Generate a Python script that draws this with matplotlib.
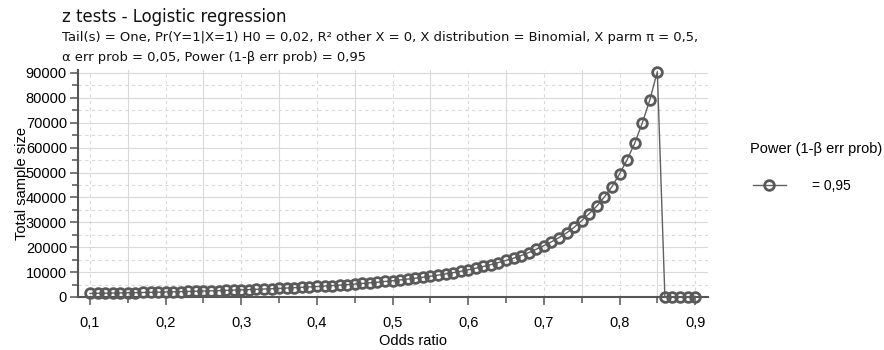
import matplotlib
matplotlib.use("Agg")
import matplotlib.pyplot as plt
from matplotlib.ticker import FixedLocator, FuncFormatter

# data read from the G*Power plot
odds_ratio = [
    0.10, 0.11, 0.12, 0.13, 0.14, 0.15, 0.16, 0.17, 0.18, 0.19,
    0.20, 0.21, 0.22, 0.23, 0.24, 0.25, 0.26, 0.27, 0.28, 0.29,
    0.30, 0.31, 0.32, 0.33, 0.34, 0.35, 0.36, 0.37, 0.38, 0.39,
    0.40, 0.41, 0.42, 0.43, 0.44, 0.45, 0.46, 0.47, 0.48, 0.49,
    0.50, 0.51, 0.52, 0.53, 0.54, 0.55, 0.56, 0.57, 0.58, 0.59,
    0.60, 0.61, 0.62, 0.63, 0.64, 0.65, 0.66, 0.67, 0.68, 0.69,
    0.70, 0.71, 0.72, 0.73, 0.74, 0.75, 0.76, 0.77, 0.78, 0.79,
    0.80, 0.81, 0.82, 0.83, 0.84, 0.85, 0.86, 0.87, 0.88, 0.89,
    0.90,
]
total_n = [
    1450, 1500, 1550, 1600, 1650, 1710, 1760, 1820, 1880, 1950,
    2020, 2090, 2160, 2230, 2310, 2400, 2480, 2570, 2670, 2760,
    2870, 2970, 3090, 3210, 3330, 3460, 3600, 3740, 3890, 4050,
    4220, 4400, 4590, 4780, 4990, 5210, 5450, 5700, 5960, 6240,
    6540, 6850, 7190, 7550, 7940, 8350, 8800, 9270, 9780, 10330,
    10930, 11570, 12270, 13030, 13850, 14700, 15600, 16650, 17850, 19200,
    20650, 22150, 23850, 25750, 28000, 30650, 33500, 36500, 40200, 44350,
    49400, 55100, 61700, 69800, 79100, 90500, 0, 0, 0, 0,
    0,
]

x_major = [0.1, 0.2, 0.3, 0.4, 0.5, 0.6, 0.7, 0.8, 0.9]
x_minor = [0.15, 0.25, 0.35, 0.45, 0.55, 0.65, 0.75, 0.85]
y_major = [0, 10000, 20000, 30000, 40000, 50000, 60000, 70000, 80000, 90000]
y_minor = [5000, 15000, 25000, 35000, 45000, 55000, 65000, 75000, 85000]

title = "z tests - Logistic regression"
subtitle_1 = ("Tail(s) = One, Pr(Y=1|X=1) H0 = 0,02, R² other X = 0, "
              "X distribution = Binomial, X parm π = 0,5,")
subtitle_2 = "α err prob = 0,05, Power (1-β err prob) = 0,95"
legend_title = "Power (1-β err prob)"
legend_label = "= 0,95"

W, H = 884, 350
AX_COL = "#555555"
GRID_COL = "#d9d9d9"
side_font = ["Liberation Sans", "DejaVu Sans"]

fig = plt.figure(figsize=(W / 100, H / 100), dpi=100)
ax = fig.add_axes([78 / W, (H - 297) / H, 630 / W, 227 / H])

ax.plot(odds_ratio, total_n, color="#606060", lw=1.0, marker="o", ms=7,
        mfc="none", mec="#5a5a5a", mew=2.0, clip_on=False, zorder=3)

ax.set_xlim(0.0841, 0.917)
ax.set_ylim(0, 91200)

for s in ["top", "right"]:
    ax.spines[s].set_visible(False)
for s in ["left", "bottom"]:
    ax.spines[s].set_color(AX_COL)
    ax.spines[s].set_linewidth(1.5)

ax.xaxis.set_major_locator(FixedLocator(x_major))
ax.xaxis.set_minor_locator(FixedLocator(x_minor))
ax.yaxis.set_major_locator(FixedLocator(y_major))
ax.yaxis.set_minor_locator(FixedLocator(y_minor))
ax.xaxis.set_major_formatter(FuncFormatter(lambda v, p: f"{v:.1f}".replace(".", ",")))
ax.yaxis.set_major_formatter(FuncFormatter(lambda v, p: f"{v:.0f}"))

ax.tick_params(which="major", length=6, width=1.1, color=AX_COL, labelsize=10.5,
               pad=2)
ax.tick_params(which="minor", length=4, width=1.1, color=AX_COL)
ax.tick_params(axis="x", which="major", pad=8)
for lab in ax.get_xticklabels() + ax.get_yticklabels():
    lab.set_family(side_font)

# G*Power style grid: solid on 10000 / x.x5, dashed in between
ax.grid(which="major", axis="y", color=GRID_COL, lw=0.8, ls="-")
ax.grid(which="minor", axis="y", color=GRID_COL, lw=0.8, ls=(0, (3, 3)))
ax.grid(which="major", axis="x", color=GRID_COL, lw=0.8, ls=(0, (3, 3)))
ax.grid(which="minor", axis="x", color=GRID_COL, lw=0.8, ls="-")
ax.set_axisbelow(True)

fig.text(413 / W, 1 - 341 / H, "Odds ratio", ha="center", va="center",
         fontsize=10.5, family=side_font)
fig.text(22 / W, 1 - 183 / H, "Total sample size", ha="center", va="center",
         rotation=90, fontsize=10.5, family=side_font)

fig.text(62 / W, 1 - 17 / H, title, ha="left", va="center", fontsize=11.9,
         family="DejaVu Sans", color="#111111")
fig.text(62 / W, 1 - 38 / H, subtitle_1, ha="left", va="center", fontsize=9.45,
         family="DejaVu Sans", color="#111111")
fig.text(62 / W, 1 - 57 / H, subtitle_2, ha="left", va="center", fontsize=9.45,
         family="DejaVu Sans", color="#111111")

fig.text(750 / W, 1 - 149 / H, legend_title, ha="left", va="center",
         fontsize=10.5, family=side_font)
leg = ax.legend(handles=ax.lines, labels=[legend_label], loc="center left",
                bbox_to_anchor=(740 / W, 1 - 186 / H),
                bbox_transform=fig.transFigure, frameon=False,
                handlelength=2.4, handletextpad=1.9,
                prop={"family": side_font, "size": 10})

fig.savefig("out.png", dpi=100)
